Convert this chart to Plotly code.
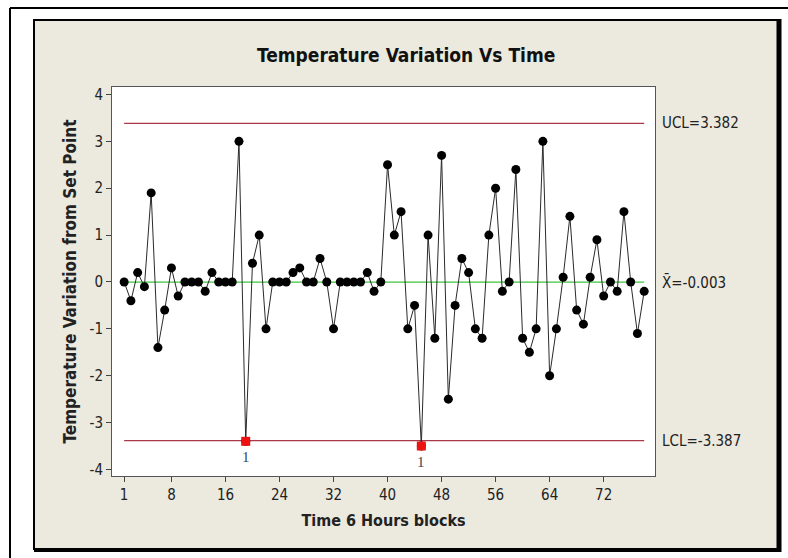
import plotly.graph_objects as go

# ---- data ----
time_block = list(range(1, 79))
temp_var = [0, -0.4, 0.2, -0.1, 1.9, -1.4, -0.6, 0.3, -0.3, 0,
            0, 0, -0.2, 0.2, 0, 0, 0, 3.0, -3.4, 0.4,
            1.0, -1.0, 0, 0, 0, 0.2, 0.3, 0, 0, 0.5,
            0, -1.0, 0, 0, 0, 0, 0.2, -0.2, 0, 2.5,
            1.0, 1.5, -1.0, -0.5, -3.5, 1.0, -1.2, 2.7, -2.5, -0.5,
            0.5, 0.2, -1.0, -1.2, 1.0, 2.0, -0.2, 0.0, 2.4, -1.2,
            -1.5, -1.0, 3.0, -2.0, -1.0, 0.1, 1.4, -0.6, -0.9, 0.1,
            0.9, -0.3, 0.0, -0.2, 1.5, 0.0, -1.1, -0.2]
out_of_control = [19, 45]
UCL = 3.382
CL = -0.003
LCL = -3.387
x_ticks = [1, 8, 16, 24, 32, 40, 48, 56, 64, 72]
y_ticks = [-4, -3, -2, -1, 0, 1, 2, 3, 4]
y_tick_labels = ["-4", "-3", "-2", "-1", "0", "1", "2", "3", "4"]

W, H = 788, 558
L, R, T, B = 112, 655, 87, 476
pw, ph = R - L, B - T
def px(x):
    return (x - L) / pw
def py(y):
    return (B - y) / ph

FONT = "DejaVu Sans Condensed, Liberation Sans Narrow, sans-serif"
BEIGE = "#ECE9DF"

fig = go.Figure()

xs = [time_block[0], time_block[-1]]
fig.add_trace(go.Scatter(x=xs, y=[UCL, UCL], mode="lines",
                         line=dict(color="#A8384A", width=1.2), hoverinfo="skip"))
fig.add_trace(go.Scatter(x=xs, y=[LCL, LCL], mode="lines",
                         line=dict(color="#A8384A", width=1.2), hoverinfo="skip"))
fig.add_trace(go.Scatter(x=xs, y=[CL, CL], mode="lines",
                         line=dict(color="#3CC43C", width=1.2), hoverinfo="skip"))

fig.add_trace(go.Scatter(x=time_block, y=temp_var, mode="lines+markers",
                         line=dict(color="#2a2a2a", width=1),
                         marker=dict(color="black", size=9, symbol="circle")))

ooc_y = [temp_var[i - 1] for i in out_of_control]
fig.add_trace(go.Scatter(x=out_of_control, y=ooc_y, mode="markers",
                         marker=dict(color="#EE1111", size=9, symbol="square")))

annotations = []
for xv, yv in zip(out_of_control, ooc_y):
    annotations.append(dict(x=xv, y=yv, xref="x", yref="y", text="1", showarrow=False,
                            yshift=-16, font=dict(family="Liberation Serif, serif", size=15, color="#3A4A55")))

for val, lab in [(UCL, "UCL=3.382"), (CL, "X\u0304=-0.003"), (LCL, "LCL=-3.387")]:
    annotations.append(dict(x=1, y=val, xref="paper", yref="y", text=lab, showarrow=False,
                            xanchor="left", xshift=5, font=dict(family=FONT, size=15, color="#222222")))

annotations.append(dict(x=px(406), y=py(55), xref="paper", yref="paper",
                        text="<b>Temperature Variation Vs Time</b>", showarrow=False,
                        xanchor="center", yanchor="middle",
                        font=dict(family=FONT, size=19, color="#111111")))

shapes = []
# white outer area
for (x0, y0, x1, y1) in [(0, 0, 33, H), (0, 0, W, 19), (780, 0, W, H), (0, 550, W, H)]:
    shapes.append(dict(type="rect", xref="paper", yref="paper", x0=px(x0), x1=px(x1),
                       y0=py(y0), y1=py(y1), fillcolor="white", line=dict(width=0), layer="below"))
# outer thin frame lines
shapes.append(dict(type="line", xref="paper", yref="paper", x0=px(10), x1=px(W), y0=py(8), y1=py(8),
                   line=dict(color="black", width=2)))
shapes.append(dict(type="line", xref="paper", yref="paper", x0=px(10), x1=px(10), y0=py(8), y1=py(H),
                   line=dict(color="black", width=2)))
# panel border
shapes.append(dict(type="rect", xref="paper", yref="paper", x0=px(34), x1=px(779), y0=py(20), y1=py(549),
                   line=dict(color="black", width=2)))
shapes.append(dict(type="line", xref="paper", yref="paper", x0=px(779), x1=px(779), y0=py(19), y1=py(552),
                   line=dict(color="black", width=5)))
shapes.append(dict(type="line", xref="paper", yref="paper", x0=px(34), x1=px(781), y0=py(550), y1=py(550),
                   line=dict(color="black", width=4)))

fig.update_layout(
    width=W, height=H,
    margin=dict(l=L, r=W - R, t=T, b=H - B, pad=0),
    paper_bgcolor=BEIGE, plot_bgcolor="white",
    showlegend=False,
    annotations=annotations,
    shapes=shapes,
    font=dict(family=FONT, size=14, color="#222222"),
)
fig.update_xaxes(range=[-0.8, 79.6], tickvals=x_ticks, ticks="outside", ticklen=5,
                 tickcolor="#444444", showgrid=False, zeroline=False,
                 showline=True, linecolor="#555555", linewidth=1, mirror=True,
                 tickfont=dict(family=FONT, size=15),
                 title=dict(text="<b>Time 6 Hours blocks</b>", font=dict(family=FONT, size=16), standoff=11))
fig.update_yaxes(range=[-4.14, 4.16], tickvals=y_ticks, ticktext=y_tick_labels, ticks="outside", ticklen=5,
                 tickcolor="#444444", showgrid=False, zeroline=False,
                 showline=True, linecolor="#555555", linewidth=1, mirror=True,
                 tickfont=dict(family=FONT, size=15),
                 title=dict(text="<b>Temperature Variation from Set Point</b>", font=dict(family=FONT, size=17), standoff=8))

fig.write_html("out.html")
